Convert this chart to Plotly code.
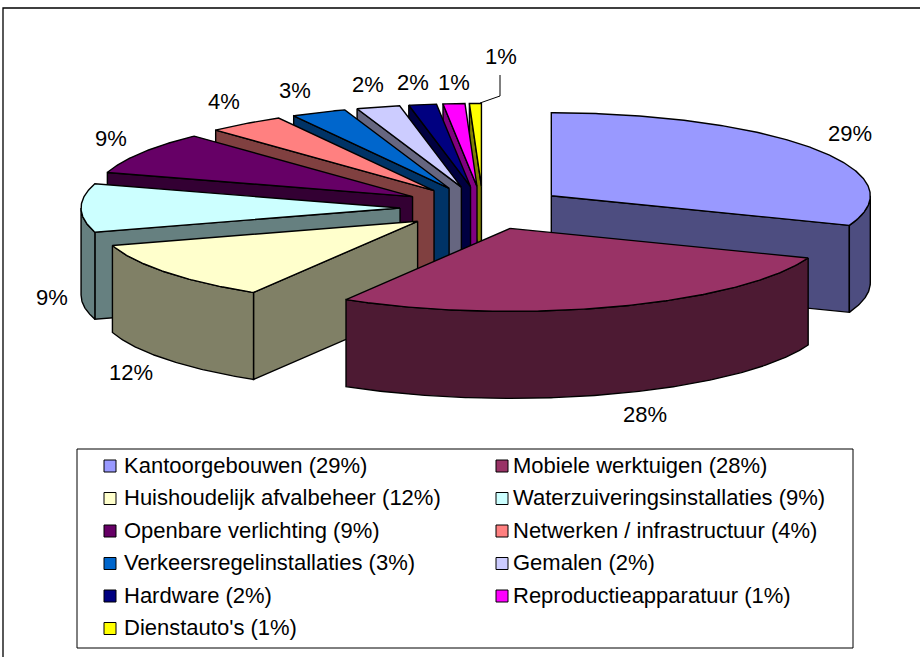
import numpy as np
import plotly.graph_objects as go

# Shares as drawn in the picture (degrees of pie measured / 3.6); printed labels are below
categories = ["Kantoorgebouwen", "Mobiele werktuigen", "Huishoudelijk afvalbeheer",
              "Waterzuiveringsinstallaties", "Openbare verlichting", "Netwerken / infrastructuur",
              "Verkeersregelinstallaties", "Gemalen", "Hardware", "Reproductieapparatuur",
              "Dienstauto's"]
values = [30.8, 27.8, 11.7, 9.4, 8.3, 3.9, 2.8, 2.2, 1.4, 1.1, 0.6]
percent_labels = ["29%", "28%", "12%", "9%", "9%", "4%", "3%", "2%", "2%", "1%", "1%"]
top_colors = ["#9999FF", "#993366", "#FFFFCC", "#CCFFFF", "#660066", "#FF8080",
              "#0066CC", "#CCCCFF", "#000080", "#FF00FF", "#FFFF00"]
side_colors = ["#4D4D80", "#4D1A33", "#808066", "#668080", "#330033", "#804040",
               "#003366", "#666680", "#000040", "#800080", "#808000"]
label_x = [850, 645, 131, 52, 111, 224, 295, 368, 413, 454, 501]
label_y = [135, 416, 374, 299, 140, 103, 92, 86, 84, 84, 58]

# Layout constants, pixels
W, H = 920, 657
CX, CY, RX, RY, DEPTH, EXPLODE = 483, 208, 319, 83, 87, 0.26
FONT = "Liberation Sans"
LW = 1.4


def rim(t0, t1, ox, oy, dz=0):
    t = np.radians(np.linspace(t0, t1, max(2, int(abs(t1 - t0)) * 2 + 2)))
    return ox + RX * np.sin(t), oy - RY * np.cos(t) + dz


fig = go.Figure()


def poly(x, y, color):
    fig.add_trace(go.Scatter(x=list(x) + [x[0]], y=list(y) + [y[0]], mode="lines", fill="toself",
                             fillcolor=color, line=dict(color="black", width=LW),
                             hoverinfo="skip", showlegend=False))


edges = np.concatenate([[0], np.cumsum(values)]) / np.sum(values) * 360
n = len(values)
for i in [0] + list(range(n - 1, 0, -1)):  # painter's order, back to front
    t0, t1 = edges[i], edges[i + 1]
    mid = np.radians((t0 + t1) / 2)
    ox = CX + EXPLODE * RX * np.sin(mid)
    oy = CY - EXPLODE * RY * np.cos(mid)
    # radial walls that face the viewer
    for t, vis in ((t0, np.sin(np.radians(t0)) < -1e-6), (t1, np.sin(np.radians(t1)) > 1e-6)):
        if vis:
            ex, ey = rim(t, t, ox, oy)
            poly([ox, ex[0], ex[0], ox], [oy, ey[0], ey[0] + DEPTH, oy + DEPTH], side_colors[i])
    # outer wall on the near half
    a, b = max(t0, 90), min(t1, 270)
    if b > a:
        ax, ay = rim(a, b, ox, oy)
        bx, by = rim(a, b, ox, oy, DEPTH)
        poly(np.r_[ax, bx[::-1]], np.r_[ay, by[::-1]], side_colors[i])
    # top face
    x, y = rim(t0, t1, ox, oy)
    poly(np.r_[ox, x], np.r_[oy, y], top_colors[i])

# Percent labels
fig.add_trace(go.Scatter(x=label_x, y=label_y, mode="text", text=percent_labels,
                         textfont=dict(family=FONT, size=22, color="black"),
                         textposition="middle center", hoverinfo="skip", showlegend=False))

# Leader line for the last label
fig.add_shape(type="path", path="M 500 75 L 500 96 L 480 103", line=dict(color="black", width=1))

# Legend
LEG_X = [110, 502]
LEG_TEXT_X = [124, 513]
LEG_Y0, LEG_DY = 466, 32.5
leg_x = [LEG_X[i % 2] for i in range(n)]
leg_tx = [LEG_TEXT_X[i % 2] for i in range(n)]
leg_y = [LEG_Y0 + LEG_DY * (i // 2) for i in range(n)]
fig.add_shape(type="rect", x0=77, y0=449, x1=853, y1=648, line=dict(color="black", width=1))
fig.add_trace(go.Scatter(x=leg_x, y=leg_y, mode="markers",
                         marker=dict(symbol="square", size=12, color=top_colors,
                                     line=dict(color="black", width=1)),
                         hoverinfo="skip", showlegend=False))
fig.add_trace(go.Scatter(x=leg_tx, y=[v + 1 for v in leg_y], mode="text",
                         text=[f"{c} ({p})" for c, p in zip(categories, percent_labels)],
                         textposition="middle right",
                         textfont=dict(family=FONT, size=22, color="black"),
                         hoverinfo="skip", showlegend=False))

# Outer frame: only its left and top edges fall inside the picture
fig.add_shape(type="path", path=f"M 3 {H} L 3 8 L {W} 8", line=dict(color="black", width=1.3))

fig.update_layout(width=W, height=H, margin=dict(l=0, r=0, t=0, b=0), showlegend=False,
                  paper_bgcolor="white", plot_bgcolor="white",
                  xaxis=dict(range=[0, W], visible=False, fixedrange=True),
                  yaxis=dict(range=[H, 0], visible=False, fixedrange=True))
fig.write_html("out.html", config=dict(displayModeBar=False),
               post_script="document.body.style.margin='0';document.documentElement.style.overflow='hidden';")
